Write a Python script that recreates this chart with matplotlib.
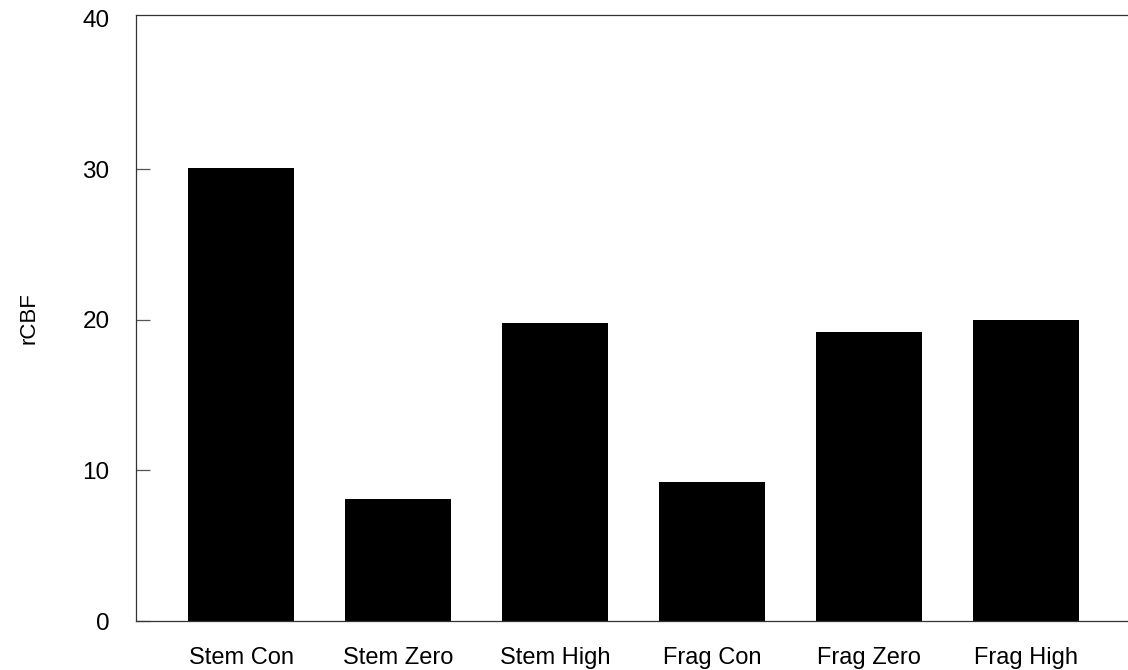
import matplotlib
matplotlib.use("Agg")
import matplotlib.pyplot as plt

# values
groups = ["Stem Con", "Stem Zero", "Stem High", "Frag Con", "Frag Zero", "Frag High"]
rcbf = [30.1, 8.1, 19.8, 9.2, 19.2, 20.0]
yticks = [0, 10, 20, 30, 40]

plt.rcParams['font.family'] = ['Liberation Sans', 'DejaVu Sans']

fig = plt.figure(figsize=(11.28, 6.70), dpi=100)
ax = fig.add_axes([136/1128, 1 - 621/670, 1 - 136/1128, (621 - 15)/670])

x = list(range(len(groups)))
ax.bar(x, rcbf, width=0.675, color='black')

ax.set_xlim(-0.67, 5.65)
ax.set_ylim(0, 40.25)
ax.set_yticks(yticks)
ax.set_xticks(x)
ax.set_xticklabels(groups, fontsize=17)
ax.tick_params(axis='x', length=0, pad=19)
ax.tick_params(axis='y', direction='in', length=10, width=0.9, pad=19, labelsize=17.5, color='#555555')
# no tick mark at 40, it sits on the top frame line
ax.yaxis.get_major_ticks()[-1].tick1line.set_visible(False)

for side in ['left', 'top', 'bottom']:
    ax.spines[side].set_linewidth(0.9)
    ax.spines[side].set_color('#333333')
ax.spines['right'].set_visible(False)

ax.set_ylabel('rCBF', fontsize=16, labelpad=31)

fig.savefig('out.png', dpi=100)
